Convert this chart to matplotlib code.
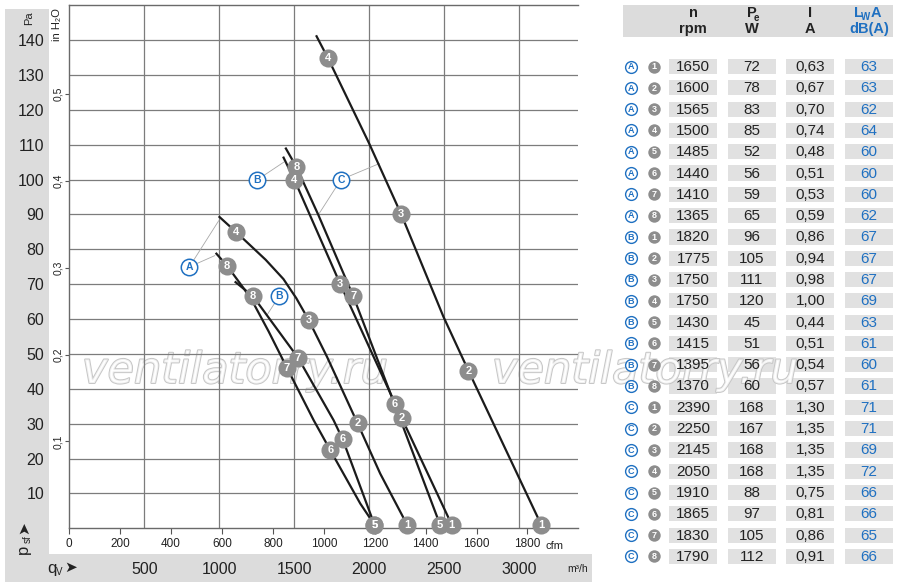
import matplotlib
matplotlib.use('Agg')
import matplotlib.pyplot as plt
from matplotlib import font_manager
from matplotlib.patches import Rectangle
import matplotlib.patheffects as pe_

# --- font: condensed look if available
nombres = {f.name for f in font_manager.fontManager.ttflist}
COND = 'Liberation Sans Narrow' if 'Liberation Sans Narrow' in nombres else 'Liberation Sans'
plt.rcParams['font.family'] = [COND, 'DejaVu Sans']

CFM = 1.699      # m3/h per cfm
INH2O = 249.089  # Pa per inH2O

# curves, q in m3/h, p in Pa
a_hi_q = [997, 1115, 1311, 1429, 1515, 1597, 1720, 1924, 2075, 2255]
a_hi_p = [89.5, 84.9, 77.0, 71.5, 66.0, 59.8, 49.2, 30.1, 15.7, 1.0]
a_lo_q = [977, 1053, 1171, 1230, 1330, 1453, 1631, 1742, 1942, 2037]
a_lo_p = [79.0, 75.3, 68.4, 64.5, 56.5, 46.0, 31.0, 22.4, 7.1, 1.0]
b_hi_q = [1427, 1502, 1808, 2220, 2553]
b_hi_p = [106.6, 100.0, 70.1, 31.5, 1.0]
b_lo_q = [1104, 1227, 1527, 1764, 1824, 2037]
b_lo_p = [70.8, 66.5, 48.9, 31.0, 25.6, 1.0]
c_hi_q = [1647, 1727, 2000, 2215, 2497, 2664, 3150]
c_hi_p = [141.4, 134.8, 110.5, 90.1, 60.7, 45.2, 1.0]
c_lo_q = [1442, 1515, 1662, 1896, 2171, 2475]
c_lo_p = [109.2, 103.7, 89.9, 66.5, 35.6, 1.0]

# operating points 1..8 per series
a_op_q = [2255, 1924, 1597, 1115, 2037, 1742, 1453, 1053]
a_op_p = [1.0, 30.1, 59.8, 84.9, 1.0, 22.4, 46.0, 75.3]
b_op_q = [2553, 2220, 1808, 1502, 2037, 1824, 1527, 1227]
b_op_p = [1.0, 31.5, 70.1, 100.0, 1.0, 25.6, 48.9, 66.5]
c_op_q = [3150, 2664, 2215, 1727, 2475, 2171, 1896, 1515]
c_op_p = [1.0, 45.2, 90.1, 134.8, 1.0, 35.6, 66.5, 103.7]

# series tags in the chart and where their leader lines point
tag_txt = ['A', 'B', 'B', 'C']
tag_q = [802, 1253, 1400, 1813]
tag_p = [75.0, 99.9, 66.5, 100.0]
tag_to = [[(997, 88.2), (971, 78.2)], [(1431, 105.0)], [(1320, 61.2)],
          [(2069, 104.6), (1662, 89.9)]]

# table
tab_serie = ['A'] * 8 + ['B'] * 8 + ['C'] * 8
tab_num = list(range(1, 9)) * 3
tab_rpm = [1650, 1600, 1565, 1500, 1485, 1440, 1410, 1365,
           1820, 1775, 1750, 1750, 1430, 1415, 1395, 1370,
           2390, 2250, 2145, 2050, 1910, 1865, 1830, 1790]
tab_pe = [72, 78, 83, 85, 52, 56, 59, 65,
          96, 105, 111, 120, 45, 51, 56, 60,
          168, 167, 168, 168, 88, 97, 105, 112]
tab_i = [0.63, 0.67, 0.70, 0.74, 0.48, 0.51, 0.53, 0.59,
         0.86, 0.94, 0.98, 1.00, 0.44, 0.51, 0.54, 0.57,
         1.30, 1.35, 1.35, 1.35, 0.75, 0.81, 0.86, 0.91]
tab_lwa = [63, 63, 62, 64, 60, 60, 60, 62,
           67, 67, 67, 69, 63, 61, 60, 61,
           71, 71, 69, 72, 66, 66, 65, 66]

AZUL = '#1f70c1'
GRIS_BANDA = '#dcdcdc'
GRIS_MARCA = '#8d8d8d'
W, H = 900, 587

fig = plt.figure(figsize=(9, 5.87), dpi=100)

# fondo en pixeles (y hacia abajo)
bg = fig.add_axes([0, 0, 1, 1], zorder=0)
bg.set_xlim(0, W)
bg.set_ylim(H, 0)
bg.axis('off')

bg.add_patch(Rectangle((5, 9), 44, 546, color=GRIS_BANDA, lw=0))
bg.add_patch(Rectangle((5, 554.3), 587, 27.4, color=GRIS_BANDA, lw=0))
bg.add_patch(Rectangle((622.7, 5), 270, 31.7, color=GRIS_BANDA, lw=0))

bg.text(29, 18, 'Pa', rotation=90, fontsize=8, ha='center', va='center', color='#222')
bg.text(57, 25, 'in H₂O', rotation=90, fontsize=8, ha='center', va='center', color='#222')
bg.text(555, 546, 'cfm', fontsize=8, ha='center', va='center', color='#222')
bg.text(578, 569, 'm³/h', fontsize=7.5, ha='center', va='center', color='#222')
bg.text(52, 568, 'q', fontsize=12, ha='center', va='center', color='#222')
bg.text(59, 572, 'V', fontsize=7, ha='center', va='center', color='#222')
bg.text(71, 567, '➤', fontsize=11, ha='center', va='center', color='#222',
        family='DejaVu Sans')
bg.text(23, 549, 'p', rotation=90, fontsize=12, ha='center', va='center', color='#222')
bg.text(28, 539, 'sf', rotation=90, fontsize=7, ha='center', va='center', color='#222')
bg.text(24, 528, '➤', rotation=90, fontsize=11, ha='center', va='center', color='#222',
        family='DejaVu Sans')

# marcas de agua
for x0 in [82, 492]:
    bg.text(x0, 383, 'ventilatorry.ru', fontsize=31, style='italic', family='DejaVu Sans',
            ha='left', va='baseline', color=(1, 1, 1, 0.75), zorder=3,
            path_effects=[pe_.withStroke(linewidth=1.4, foreground='#c6c6c6')])

# tabla
col_x = [693.3, 751.7, 810.2, 868.9]
col_w = 48
fila0, paso = 66.5, 21.3
hdr1 = ['n', 'P', 'I', '']
hdr2 = ['rpm', 'W', 'A', 'dB(A)']
for k in range(4):
    c = AZUL if k == 3 else '#222'
    bg.text(col_x[k], 13, hdr1[k], fontsize=10.5, fontweight='bold', ha='center', va='center', color=c)
    bg.text(col_x[k], 29, hdr2[k], fontsize=10.5, fontweight='bold', ha='center', va='center', color=c)
bg.text(col_x[1] + 5, 18, 'e', fontsize=7, fontweight='bold', ha='center', va='center', color='#222')
bg.text(col_x[3] - 10, 13, 'L', fontsize=10.5, fontweight='bold', ha='center', va='center', color=AZUL)
bg.text(col_x[3] - 3, 17, 'W', fontsize=7, fontweight='bold', ha='center', va='center', color=AZUL)
bg.text(col_x[3] + 7, 13, 'A', fontsize=10.5, fontweight='bold', ha='center', va='center', color=AZUL)

ys = [fila0 + i * paso for i in range(len(tab_rpm))]
for i, y in enumerate(ys):
    vals = [str(tab_rpm[i]), str(tab_pe[i]), f'{tab_i[i]:.2f}'.replace('.', ','), str(tab_lwa[i])]
    for k in range(4):
        bg.add_patch(Rectangle((col_x[k] - col_w / 2, y - 7.6), col_w, 15.2,
                               color='#e1e1e1', lw=0, zorder=2))
        bg.text(col_x[k], y + 0.5, vals[k], fontsize=11, ha='center', va='center', zorder=4,
                color=AZUL if k == 3 else '#222')
bg.scatter([630.7] * len(ys), ys, s=72, facecolor='white', edgecolor=AZUL, lw=1, zorder=3)
bg.scatter([654.3] * len(ys), ys, s=80, color=GRIS_MARCA, lw=0, zorder=3)
for i, y in enumerate(ys):
    bg.text(630.7, y + 0.3, tab_serie[i], fontsize=6.5, fontweight='bold', ha='center', va='center',
            color=AZUL, zorder=4)
    bg.text(654.3, y + 0.3, str(tab_num[i]), fontsize=6.5, fontweight='bold', ha='center', va='center',
            color='white', zorder=4)

# grafico principal
ax = fig.add_axes([69.3 / W, 1 - 528.3 / H, (578.4 - 69.3) / W, (528.3 - 5.3) / H], zorder=2)
ax.set_facecolor('none')
ax.set_xlim(0, 2000 * CFM)
ax.set_ylim(0, 150)
ax.set_xticks([500, 1000, 1500, 2000, 2500, 3000])
ax.set_yticks(range(10, 150, 10))
ax.grid(True, color='#7c7c7c', lw=0.9)
ax.set_axisbelow(True)
ax.spines['right'].set_visible(False)
for s in ['left', 'top', 'bottom']:
    ax.spines[s].set_color('#6a6a6a')
    ax.spines[s].set_linewidth(1)
ax.tick_params(axis='y', length=0, pad=18, labelsize=11.5, labelcolor='#222')
ax.tick_params(axis='x', length=0, pad=24, labelsize=11.5, labelcolor='#222')

sy = ax.secondary_yaxis('left', functions=(lambda p: p / INH2O, lambda v: v * INH2O))
sy.set_yticks([0.1, 0.2, 0.3, 0.4, 0.5])
sy.set_yticklabels(['0,1', '0,2', '0,3', '0,4', '0,5'])
sy.tick_params(length=3, width=0.8, color='#555', pad=1.5, labelsize=7.5, labelcolor='#222')
sy.spines['left'].set_visible(False)
for lab in sy.get_yticklabels():
    lab.set_rotation(90)
    lab.set_va('center')

sx = ax.secondary_xaxis('bottom', functions=(lambda q: q / CFM, lambda c: c * CFM))
sx.set_xticks(range(0, 2000, 200))
sx.tick_params(length=4.3, width=0.8, color='#555', pad=3, labelsize=8.5, labelcolor='#222')
sx.spines['bottom'].set_visible(False)

for (qq, pp) in [(a_hi_q, a_hi_p), (a_lo_q, a_lo_p), (b_hi_q, b_hi_p),
                 (b_lo_q, b_lo_p), (c_hi_q, c_hi_p), (c_lo_q, c_lo_p)]:
    ax.plot(qq, pp, color='#1b1b1b', lw=1.6, zorder=3, solid_capstyle='butt',
            solid_joinstyle='round')

for (oq, op) in [(a_op_q, a_op_p), (b_op_q, b_op_p), (c_op_q, c_op_p)]:
    ax.scatter(oq, op, s=170, color=GRIS_MARCA, lw=0, zorder=4, clip_on=False)
    for n, (q, p) in enumerate(zip(oq, op), start=1):
        ax.text(q, p, str(n), fontsize=8, fontweight='bold', color='white',
                ha='center', va='center', zorder=5)

for t, q, p, dest in zip(tag_txt, tag_q, tag_p, tag_to):
    for (dq, dp) in dest:
        ax.plot([q, dq], [p, dp], color='#a8a8a8', lw=0.6, zorder=2)
    ax.scatter([q], [p], s=140, facecolor='white', edgecolor=AZUL, lw=1.1, zorder=4)
    ax.text(q, p, t, fontsize=7.5, fontweight='bold', color=AZUL, ha='center', va='center', zorder=5)

fig.savefig('out.png', dpi=100)
